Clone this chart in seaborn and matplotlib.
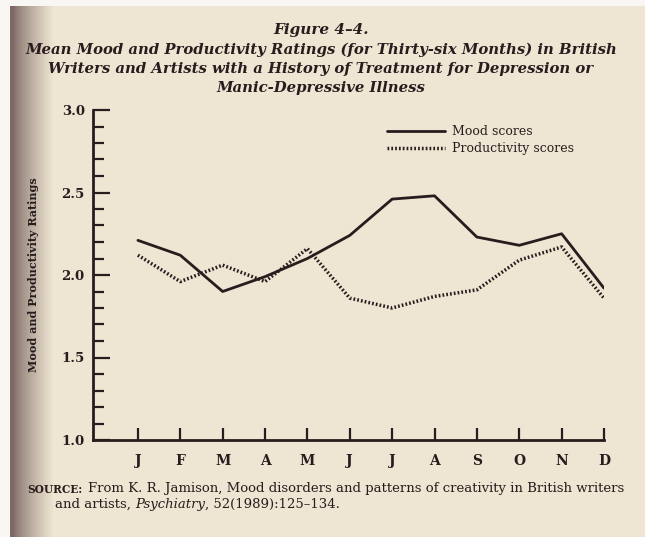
import numpy as np
import pandas as pd
import matplotlib
matplotlib.use("Agg")
import matplotlib.pyplot as plt
from matplotlib.ticker import MultipleLocator
import seaborn as sns

# Monthly ratings (mean over thirty-six months)
months = ["J", "F", "M", "A", "M", "J", "J", "A", "S", "O", "N", "D"]
mood_scores = [2.21, 2.12, 1.90, 1.99, 2.10, 2.24, 2.46, 2.48, 2.23, 2.18, 2.25, 1.92]
productivity_scores = [2.12, 1.96, 2.06, 1.96, 2.16, 1.86, 1.80, 1.87, 1.91, 2.09, 2.17, 1.86]
y_ticks = [1.0, 1.5, 2.0, 2.5, 3.0]

df = pd.DataFrame({
    "month": np.arange(len(months)),
    "Mood scores": mood_scores,
    "Productivity scores": productivity_scores,
})

PAPER = "#eee6d2"
INK = "#2a1b1e"
SERIF = "DejaVu Serif"

sns.set_theme(style="white")
plt.rcParams["font.family"] = [SERIF]
plt.rcParams["text.color"] = INK

W, H = 645, 537
fig = plt.figure(figsize=(W / 100, H / 100), dpi=100)
fig.patch.set_facecolor(PAPER)

# paper background with the shadow of the book's binding on the left
bg = fig.add_axes([0, 0, 1, 1], zorder=-10)
xs = np.arange(W, dtype=float)
paper = np.array([238, 230, 210]) / 255.0
shadow = np.array([125, 104, 100]) / 255.0
white = np.array([248, 247, 243]) / 255.0
t = np.clip((xs - 13) / 40.0, 0, 1) ** 0.75
row = shadow[None, :] * (1 - t[:, None]) + paper[None, :] * t[:, None]
row[xs < 10] = white
img = np.repeat(row[None, :, :], H, axis=0)
img[:6, :, :] = white
bg.imshow(img, extent=[0, W, H, 0], aspect="auto", interpolation="bilinear")
bg.set_xlim(0, W)
bg.set_ylim(H, 0)
bg.axis("off")

# plotting area in pixel terms
left, right, top, bottom = 93, 604, 110, 440
ax = fig.add_axes([left / W, 1 - bottom / H, (right - left) / W, (bottom - top) / H])
ax.set_facecolor("none")

sns.lineplot(data=df, x="month", y="Mood scores", ax=ax, color=INK,
             linewidth=2.0, label="Mood scores")
sns.lineplot(data=df, x="month", y="Productivity scores", ax=ax, color=INK,
             linewidth=2.5, linestyle=(0, (0.5, 0.6)), label="Productivity scores")

ax.set_xlim(-1.06, 11)
ax.set_ylim(1.0, 3.0)
ax.set_xticks(df["month"])
ax.set_xticklabels(months, fontsize=10, fontweight="bold", color=INK)
ax.set_yticks(y_ticks)
ax.set_yticklabels([f"{v:.1f}" for v in y_ticks], fontsize=9.5, fontweight="bold", color=INK)
ax.yaxis.set_minor_locator(MultipleLocator(0.1))
ax.tick_params(axis="y", which="major", direction="in", length=12, width=1.6,
               color=INK, pad=6, left=True)
ax.tick_params(axis="y", which="minor", direction="in", length=8, width=1.6,
               color=INK, left=True)
ax.tick_params(axis="x", which="major", direction="in", length=9, width=1.6,
               color=INK, pad=10, bottom=True)
ax.set_xlabel("")
ax.set_ylabel("Mood and Productivity Ratings", fontsize=8, fontweight="bold", color=INK)
ax.yaxis.set_label_coords(-0.105, 0.5)
for side in ["top", "right"]:
    ax.spines[side].set_visible(False)
for side in ["left", "bottom"]:
    ax.spines[side].set_color(INK)
    ax.spines[side].set_linewidth(2.0)

leg = ax.legend(loc="upper left", bbox_to_anchor=(381 / W, 1 - 119 / H),
                bbox_transform=fig.transFigure, frameon=False, fontsize=9,
                handlelength=4.6, handletextpad=0.6, labelspacing=0.3, borderpad=0)
for txt in leg.get_texts():
    txt.set_color(INK)

# heading
cx = 321 / W
fig.text(cx, 1 - 30 / H, "Figure 4\u20134.", ha="center", va="center",
         fontsize=11, style="italic", fontweight="semibold", color=INK)
head = ["Mean Mood and Productivity Ratings (for Thirty-six Months) in British",
        "Writers and Artists with a History of Treatment for Depression or",
        "Manic-Depressive Illness"]
for i, line in enumerate(head):
    fig.text(cx, 1 - (50 + 19 * i) / H, line, ha="center", va="center",
             fontsize=10.7, style="italic", fontweight="bold", color=INK)

# source note
src_y1 = 1 - 495 / H
src_y2 = 1 - 511 / H
s0 = fig.text(27 / W, src_y1, "SOURCE:", fontsize=7.6, fontweight="bold",
              color=INK, va="bottom")
ax.annotate("From K. R. Jamison, Mood disorders and patterns of creativity in British writers",
            xy=(1, 0), xycoords=s0, xytext=(4, 0), textcoords="offset points",
            fontsize=9.55, color=INK, va="bottom", annotation_clip=False)
s1 = fig.text(55 / W, src_y2, "and artists, ", fontsize=9.55, color=INK, va="bottom")
s2 = ax.annotate("Psychiatry", xy=(1, 0), xycoords=s1, fontsize=9.55, style="italic",
                 color=INK, va="bottom", annotation_clip=False)
ax.annotate(", 52(1989):125\u2013134.", xy=(1, 0), xycoords=s2, fontsize=9.55,
            color=INK, va="bottom", annotation_clip=False)

fig.savefig("out.png", dpi=100, facecolor=fig.get_facecolor())
